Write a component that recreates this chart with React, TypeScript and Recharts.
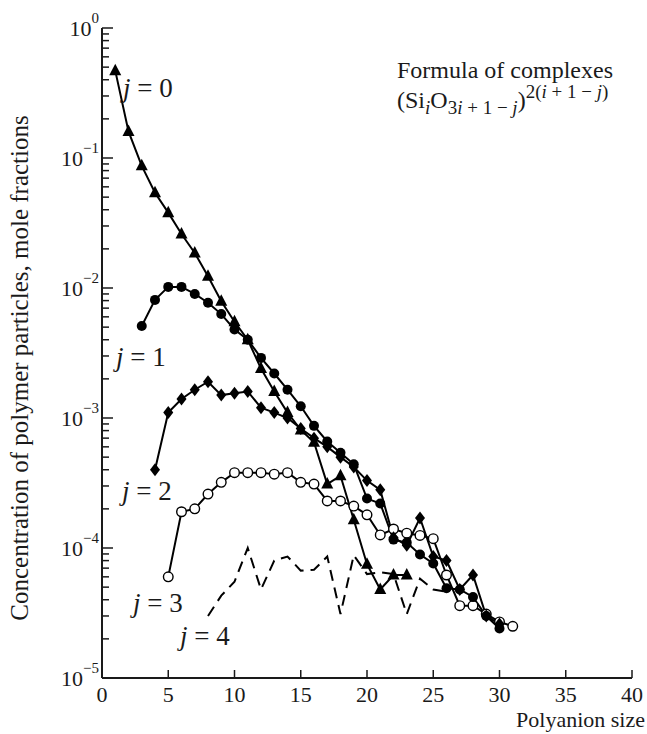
import { LineChart, Line, XAxis, YAxis } from 'recharts'

// polyanion sizes i (x axis)
const sizes = [
  1, 2, 3, 4, 5, 6, 7, 8, 9, 10, 11, 12, 13, 14, 15, 16, 17, 18, 19, 20, 21, 22,
  23, 24, 25, 26, 27, 28, 29, 30, 31,
]

// mole fractions for each j, first value belongs to size jStart
const j0Start = 1
const j0Values = [
  0.47, 0.16, 0.087, 0.054, 0.038, 0.026, 0.0186, 0.0123, 0.0079, 0.0055, 0.004,
  0.0024, 0.0016, 0.0011, 0.00081, 0.00065, 0.00031, 0.00036, 0.000165, 0.000075,
  0.000048, 0.000062, 0.000062,
]
const j1Start = 3
const j1Values = [
  0.0051, 0.0081, 0.0102, 0.0102, 0.009, 0.0077, 0.0063, 0.0048, 0.004, 0.0029,
  0.0022, 0.00165, 0.00123, 0.00087, 0.00066, 0.00054, 0.00044, 0.00024, 0.00022,
  0.000116, 0.00011, 0.000089, 0.000076, 0.000049, 0.000048, 0.000042, 0.00003,
  0.000024,
]
const j2Start = 4
const j2Values = [
  0.0004, 0.0011, 0.0014, 0.00165, 0.0019, 0.0015, 0.00155, 0.0016, 0.0012, 0.0011,
  0.001, 0.00083, 0.0007, 0.0006, 0.0005, 0.00042, 0.00033, 0.00028, 0.00012,
  0.000105, 0.00017, 0.000086, 0.00008, 0.000048, 0.000062, 0.00003, 0.000026,
]
const j3Start = 5
const j3Values = [
  0.00006, 0.00019, 0.0002, 0.00026, 0.00032, 0.00038, 0.00038, 0.00038, 0.00037,
  0.00038, 0.00032, 0.00031, 0.00023, 0.00023, 0.00021, 0.00018, 0.000126, 0.00014,
  0.00013, 0.000125, 0.000118, 0.000062, 0.000036, 0.000036, 0.000031, 0.000027,
  0.000025,
]
const j4Start = 8
const j4Values = [
  0.00003, 0.000043, 0.000055, 0.0001, 0.000048, 0.00008, 0.000086, 0.000067,
  0.000068, 0.000086, 0.000031, 0.000088, 0.000063, 0.000065, 0.000063, 0.000031,
  0.000058, 0.000048, 0.000046,
]

const xTicks = [0, 5, 10, 15, 20, 25, 30, 35, 40]
const decadeExponents = [-5, -4, -3, -2, -1, 0]
const minorMultipliers = [2, 3, 4, 5, 6, 7, 8, 9]

const pick = (values: number[], start: number, size: number) => {
  const v = values[size - start]
  return v === undefined ? null : v
}

const data = sizes.map((size) => ({
  size,
  j0: pick(j0Values, j0Start, size),
  j1: pick(j1Values, j1Start, size),
  j2: pick(j2Values, j2Start, size),
  j3: pick(j3Values, j3Start, size),
  j4: pick(j4Values, j4Start, size),
}))

const yTicks: number[] = []
decadeExponents.forEach((e) => {
  yTicks.push(Math.pow(10, e))
  if (e < 0) minorMultipliers.forEach((m) => yTicks.push(m * Math.pow(10, e)))
})

const FONT = '"Liberation Serif", "Times New Roman", Times, serif'
const INK = '#1a1a1a'
const txt = { fontFamily: FONT, fill: INK }

const isMajor = (v: number) => {
  const l = Math.log10(v)
  return Math.abs(l - Math.round(l)) < 1e-6
}

const YTick = ({ x, y, payload }: any) => {
  const v = payload.value
  const major = isMajor(v)
  const exp = Math.round(Math.log10(v))
  return (
    <g>
      <line x1={x} x2={x + (major ? 11 : 7)} y1={y} y2={y} stroke={INK} strokeWidth={1.5} />
      {major && (
        <text x={x - 3} y={y + 8} textAnchor="end" fontSize={22} style={txt}>
          10
          <tspan dy={-13} fontSize={15}>
            {exp === 0 ? '0' : `\u2212${-exp}`}
          </tspan>
        </text>
      )}
    </g>
  )
}

const XTick = ({ x, y, payload }: any) => (
  <g>
    <line x1={x} x2={x} y1={y} y2={y - 8} stroke={INK} strokeWidth={1.5} />
    <text x={x} y={y + 24} textAnchor="middle" fontSize={22} style={txt}>
      {payload.value}
    </text>
  </g>
)

// markers
const Triangle = (p: any) =>
  p.value == null || p.cy == null ? (
    <g key={p.index} />
  ) : (
    <polygon
      key={p.index}
      points={`${p.cx},${p.cy - 7} ${p.cx - 6},${p.cy + 4.5} ${p.cx + 6},${p.cy + 4.5}`}
      fill="#000"
    />
  )

const FilledCircle = (p: any) =>
  p.value == null || p.cy == null ? (
    <g key={p.index} />
  ) : (
    <circle key={p.index} cx={p.cx} cy={p.cy} r={5} fill="#000" />
  )

const Diamond = (p: any) =>
  p.value == null || p.cy == null ? (
    <g key={p.index} />
  ) : (
    <polygon
      key={p.index}
      points={`${p.cx},${p.cy - 6.5} ${p.cx + 5},${p.cy} ${p.cx},${p.cy + 6.5} ${p.cx - 5},${p.cy}`}
      fill="#000"
    />
  )

const OpenCircle = (p: any) =>
  p.value == null || p.cy == null ? (
    <g key={p.index} />
  ) : (
    <circle key={p.index} cx={p.cx} cy={p.cy} r={4.8} fill="#fff" stroke="#000" strokeWidth={1.4} />
  )

const jLabel = (x: number, y: number, n: number) => (
  <text x={x} y={y} fontSize={27} style={txt}>
    <tspan fontStyle="italic">j</tspan> = {n}
  </text>
)

export default function App() {
  return (
    <div style={{ position: 'absolute', left: 0, top: 0, width: 647, height: 734, background: '#fff' }}>
      <LineChart
        width={647}
        height={734}
        data={data}
        margin={{ top: 28, right: 15, bottom: 0, left: 0 }}
      >
        <XAxis
          dataKey="size"
          type="number"
          domain={[0, 40]}
          ticks={xTicks}
          interval={0}
          height={56}
          tickSize={0}
          tickMargin={0}
          tickLine={false}
          axisLine={{ stroke: INK, strokeWidth: 2 }}
          tick={<XTick />}
        />
        <YAxis
          type="number"
          scale="log"
          domain={[1e-5, 1]}
          allowDataOverflow
          ticks={yTicks}
          interval={0}
          width={102}
          tickSize={0}
          tickMargin={0}
          tickLine={false}
          axisLine={{ stroke: INK, strokeWidth: 2 }}
          tick={<YTick />}
        />
        <Line
          dataKey="j4"
          stroke="#000"
          strokeWidth={2}
          strokeDasharray="11 7"
          dot={false}
          activeDot={false}
          isAnimationActive={false}
        />
        <Line dataKey="j3" stroke="#000" strokeWidth={2} dot={OpenCircle} activeDot={false} isAnimationActive={false} />
        <Line dataKey="j2" stroke="#000" strokeWidth={2} dot={Diamond} activeDot={false} isAnimationActive={false} />
        <Line dataKey="j1" stroke="#000" strokeWidth={2} dot={FilledCircle} activeDot={false} isAnimationActive={false} />
        <Line dataKey="j0" stroke="#000" strokeWidth={2} dot={Triangle} activeDot={false} isAnimationActive={false} />
      </LineChart>

      <svg
        width={647}
        height={734}
        style={{ position: 'absolute', left: 0, top: 0, pointerEvents: 'none' }}
      >
        <text
          transform="translate(28 368) rotate(-90)"
          textAnchor="middle"
          fontSize={25}
          style={txt}
        >
          Concentration of polymer particles, mole fractions
        </text>
        <text x={645} y={727} textAnchor="end" fontSize={22} style={txt}>
          Polyanion size
        </text>

        {jLabel(123, 97, 0)}
        {jLabel(116, 366, 1)}
        {jLabel(122, 500, 2)}
        {jLabel(133, 612, 3)}
        {jLabel(180, 645, 4)}

        <text x={505} y={78} textAnchor="middle" fontSize={24} style={txt}>
          Formula of complexes
        </text>
        <text x={397} y={108} fontSize={24} style={txt}>
          (Si
          <tspan dy={6} fontSize={19} fontStyle="italic">i</tspan>
          <tspan dy={-6}>O</tspan>
          <tspan dy={6} fontSize={19}>
            3<tspan fontStyle="italic">i</tspan> + 1 − <tspan fontStyle="italic">j</tspan>
          </tspan>
          <tspan dy={-6}>)</tspan>
          <tspan dy={-10} fontSize={19}>
            2(<tspan fontStyle="italic">i</tspan> + 1 − <tspan fontStyle="italic">j</tspan>)
          </tspan>
        </text>
      </svg>
    </div>
  )
}
